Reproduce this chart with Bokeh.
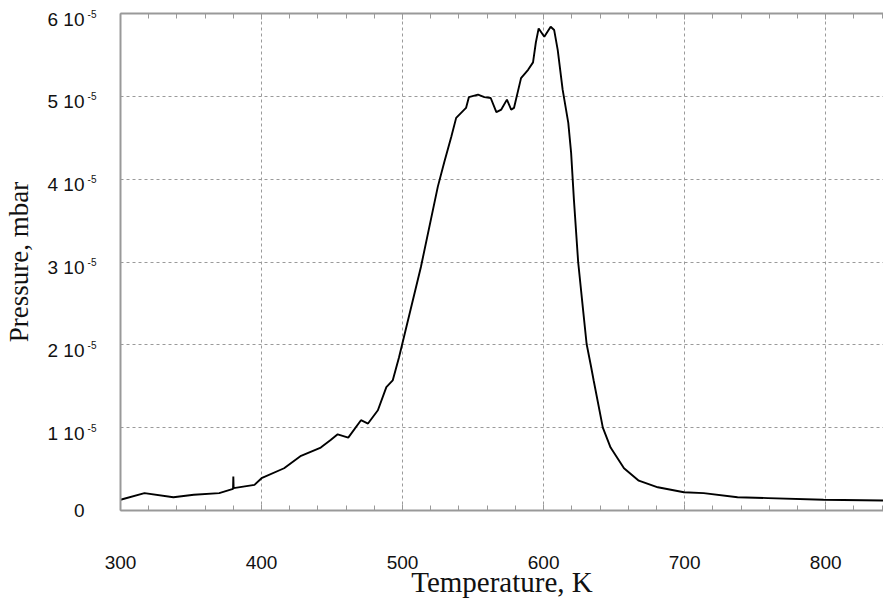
from bokeh.plotting import figure
from bokeh.models import LinearAxis, Range1d, FixedTicker, CustomJSTickFormatter
from bokeh.embed import file_html
from bokeh.resources import INLINE

# Temperature (K) and pressure (units of 1e-5 mbar)
temperature = [300, 317, 337.5, 352, 370, 379.8, 380, 380.2, 395, 400,
               416, 428, 442, 449, 454, 461.5, 470.5, 475.5, 482.5, 488.5,
               493, 497.5, 513, 525, 529.5, 534.5, 538, 541.5, 545, 547,
               553.5, 558, 562.5, 566.5, 570, 574, 577, 579, 584, 589,
               592.5, 594.5, 596.5, 600.5, 605, 607.5, 610, 613.5, 617.5, 619.5,
               621.5, 624.5, 628, 630.5, 633.5, 635.5, 642, 647.5, 657, 667.5,
               681, 699.5, 713.5, 737.5, 759, 798.5, 841]
pressure_e5 = [0.13, 0.21, 0.16, 0.19, 0.21, 0.26, 0.41, 0.27, 0.31, 0.39,
               0.51, 0.66, 0.76, 0.85, 0.92, 0.88, 1.09, 1.05, 1.21, 1.49,
               1.57, 1.85, 2.94, 3.91, 4.20, 4.51, 4.74, 4.80, 4.86, 4.99,
               5.02, 4.99, 4.98, 4.81, 4.84, 4.96, 4.84, 4.86, 5.22, 5.32,
               5.41, 5.65, 5.82, 5.72, 5.84, 5.80, 5.56, 5.08, 4.68, 4.32,
               3.75, 3.00, 2.42, 2.01, 1.75, 1.57, 1.00, 0.76, 0.51, 0.36,
               0.28, 0.22, 0.21, 0.16, 0.15, 0.13, 0.12]

x_ticks = [300, 400, 500, 600, 700, 800]
x_minor_ticks = list(range(300, 841, 20))
y_ticks = [0, 1, 2, 3, 4, 5, 6]
y_tick_mantissa = ["0", "1 10", "2 10", "3 10", "4 10", "5 10", "6 10"]
y_tick_exponent = ["", "-5", "-5", "-5", "-5", "-5", "-5"]

AXIS_COLOR = "#999999"
GRID_COLOR = "#9a9a9a"
TEXT_COLOR = "#111111"
TICK_FONT = "Liberation Sans"
LABEL_FONT = "Liberation Serif"
X_START, X_END = 300, 841
Y_START, Y_END = 0, 6

W, H = 883, 601
BORDER_L, BORDER_T, BORDER_B = 119, 13, 91
FRAME_H = H - BORDER_T - BORDER_B
PX_PER_UNIT = FRAME_H / (Y_END - Y_START)
LABEL_DROP = 5.5 / PX_PER_UNIT      # mantissa labels sit just below their tick
# the dropped positions must stay inside the axis range
lab_ticks = [max(t - LABEL_DROP, Y_START) for t in y_ticks]

p = figure(width=W, height=H, output_backend="svg", toolbar_location=None,
           x_range=Range1d(X_START, X_END), y_range=Range1d(Y_START, Y_END),
           min_border_left=BORDER_L, min_border_right=0,
           min_border_top=BORDER_T, min_border_bottom=BORDER_B,
           x_axis_label="Temperature, K")
p.outline_line_color = None
p.background_fill_color = "white"
p.border_fill_color = "white"

p.line(temperature, pressure_e5, line_color="black", line_width=1.9)

# bottom axis
xt = FixedTicker(ticks=x_ticks, minor_ticks=x_minor_ticks)
xa = p.xaxis[0]
xa.ticker = xt
xa.axis_line_color = AXIS_COLOR
xa.axis_line_width = 2
xa.major_tick_line_color = AXIS_COLOR
xa.minor_tick_line_color = AXIS_COLOR
xa.major_tick_in = 6
xa.major_tick_out = 0
xa.minor_tick_in = 5
xa.minor_tick_out = 0
xa.major_label_standoff = 45
xa.major_label_text_font = TICK_FONT
xa.major_label_text_font_size = "19px"
xa.major_label_text_color = TEXT_COLOR
xa.axis_label_text_font = LABEL_FONT
xa.axis_label_text_font_size = "29px"
xa.axis_label_text_font_style = "normal"
xa.axis_label_text_color = TEXT_COLOR
xa.axis_label_standoff = -6

# left axis (the line) carrying the small "-5" exponents
ya = p.yaxis[0]
ya.ticker = FixedTicker(ticks=y_ticks, minor_ticks=[])
ya.major_label_overrides = {t: e for t, e in zip(y_ticks, y_tick_exponent)}
ya.axis_line_color = AXIS_COLOR
ya.axis_line_width = 2
ya.major_tick_in = 0
ya.major_tick_out = 0
ya.minor_tick_in = 0
ya.minor_tick_out = 0
ya.major_label_standoff = 24
ya.major_label_text_font = TICK_FONT
ya.major_label_text_font_size = "10px"
ya.major_label_text_color = TEXT_COLOR

# second left axis: the "6 10" part of each label, dropped slightly below the tick
ym = LinearAxis(ticker=FixedTicker(ticks=lab_ticks, minor_ticks=[]),
                formatter=CustomJSTickFormatter(
                    args=dict(labels=y_tick_mantissa, drop=LABEL_DROP, y0=Y_START),
                    code="const i = Math.round(tick + drop - y0);"
                         " return labels[i] ?? '';"))
ym.axis_line_color = None
ym.major_tick_line_color = None
ym.minor_tick_line_color = None
ym.major_tick_in = 0
ym.major_tick_out = 0
ym.minor_tick_in = 0
ym.minor_tick_out = 0
ym.major_label_standoff = 0
ym.major_label_text_font = TICK_FONT
ym.major_label_text_font_size = "19px"
ym.major_label_text_color = TEXT_COLOR
p.add_layout(ym, "left")

# third left axis: only the title
yt = LinearAxis(ticker=FixedTicker(ticks=[], minor_ticks=[]),
                axis_label="Pressure, mbar")
yt.axis_line_color = None
yt.major_tick_line_color = None
yt.minor_tick_line_color = None
yt.major_label_standoff = 0
yt.axis_label_text_font = LABEL_FONT
yt.axis_label_text_font_size = "27px"
yt.axis_label_text_font_style = "normal"
yt.axis_label_text_color = TEXT_COLOR
yt.axis_label_standoff = 11
p.add_layout(yt, "left")

# top frame line with inward ticks
top = LinearAxis(ticker=FixedTicker(ticks=x_ticks, minor_ticks=x_minor_ticks),
                 formatter=CustomJSTickFormatter(code="return ''"))
top.axis_line_color = AXIS_COLOR
top.axis_line_width = 2
top.major_tick_line_color = AXIS_COLOR
top.minor_tick_line_color = AXIS_COLOR
top.major_tick_in = 6
top.major_tick_out = 0
top.minor_tick_in = 5
top.minor_tick_out = 0
top.major_label_standoff = 0
p.add_layout(top, "above")

p.xgrid.ticker = xt
p.xgrid.grid_line_color = GRID_COLOR
p.xgrid.grid_line_dash = "3 3"
p.xgrid.grid_line_width = 1
p.ygrid.grid_line_color = GRID_COLOR
p.ygrid.grid_line_dash = "3 3"
p.ygrid.grid_line_width = 1

open("out.html", "w").write(file_html(p, INLINE))
